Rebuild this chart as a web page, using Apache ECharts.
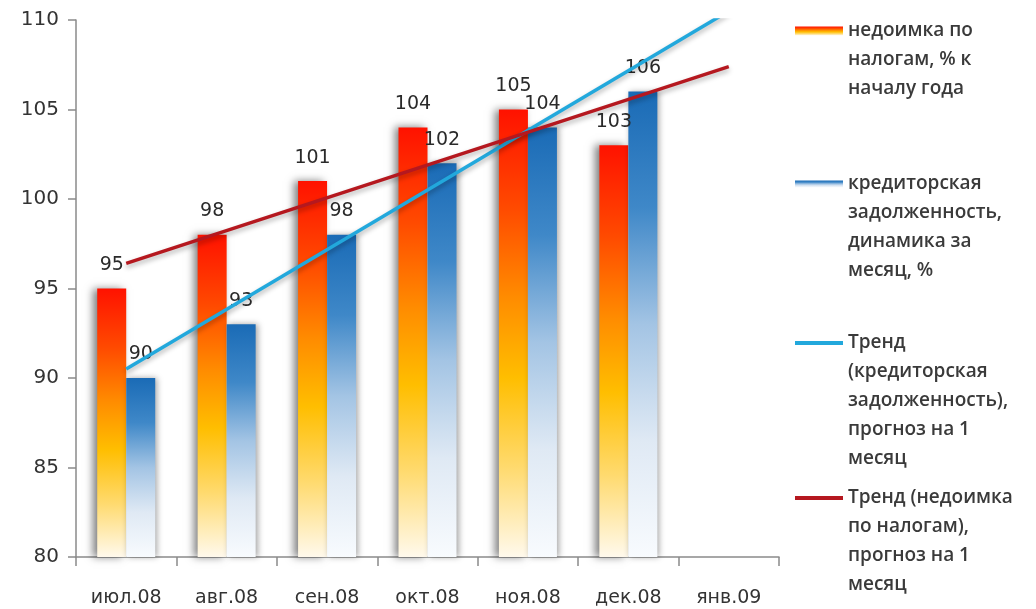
<!DOCTYPE html>
<html><head><meta charset="utf-8">
<script src="https://cdn.jsdelivr.net/npm/echarts@6/dist/echarts.min.js"></script>
<style>html,body{margin:0;padding:0;background:#fff}#c{width:1036px;height:609px}</style>
</head><body><div id="c"></div>
<script>
const categories = ['июл.08','авг.08','сен.08','окт.08','ноя.08','дек.08','янв.09'];
const arrears = [95, 98, 101, 104, 105, 103, null];
const payables = [90, 93, 98, 102, 104, 106, null];
const trendPayables = [90.5, null, null, null, null, null, 110.5];
const trendArrears = [96.4, null, null, null, null, null, 107.4];
const yTicks = [80, 85, 90, 95, 100, 105, 110];

const names = [
  'недоимка по налогам, % к началу года',
  'кредиторская задолженность, динамика за месяц, %',
  'Тренд (кредиторская задолженность), прогноз на 1 месяц',
  'Тренд (недоимка по налогам), прогноз на 1 месяц'
];
const wrapped = {};
wrapped[names[0]] = 'недоимка по\nналогам, % к\nначалу года';
wrapped[names[1]] = 'кредиторская\nзадолженность,\nдинамика за\nмесяц, %';
wrapped[names[2]] = 'Тренд\n(кредиторская\nзадолженность),\nпрогноз на 1\nмесяц';
wrapped[names[3]] = 'Тренд (недоимка\nпо налогам),\nпрогноз на 1\nмесяц';

const LH = 29;
function lines(n){ return wrapped[n].split('\n').length; }
// leading blank lines so the icon lines up with the first text line
function padded(n){ const k = lines(n); return '\u00a0\n'.repeat(k-1) + wrapped[n]; }

const redGrad = new echarts.graphic.LinearGradient(0,0,0,1,[
  {offset:0,color:'#ff1200'},{offset:0.22,color:'#ff4a00'},{offset:0.42,color:'#ff8c00'},
  {offset:0.6,color:'#ffbe00'},{offset:0.8,color:'#ffda6e'},{offset:1,color:'#fff9ec'}]);
const blueGrad = new echarts.graphic.LinearGradient(0,0,0,1,[
  {offset:0,color:'#1a6bb6'},{offset:0.25,color:'#3f88c8'},{offset:0.5,color:'#a3c4e4'},
  {offset:0.75,color:'#dfe9f4'},{offset:1,color:'#f8fbfe'}]);

const legendCenters = [31, 184, 343, 498];
function mkLegend(i, iconH){
  const n = lines(names[i]);
  return {
    data: [names[i]],
    orient: 'vertical',
    left: 795,
    top: legendCenters[i] - (2*n-1)*LH/2,
    padding: 0,
    itemWidth: 48, itemHeight: iconH,
    icon: 'rect',
    formatter: nm => padded(nm),
    textStyle: {fontFamily:'Open Sans', fontWeight:600, fontSize:19, color:'#3a3a3a', lineHeight:LH}
  };
}

const chart = echarts.init(document.getElementById('c'), null, {renderer:'canvas'});
chart.setOption({
  backgroundColor:'#ffffff',
  animation:false,
  grid:{left:76, right:257, top:20, bottom:52},
  legend:[mkLegend(0,9), mkLegend(1,7), mkLegend(2,4), mkLegend(3,4)],
  xAxis:{
    type:'category', data:categories,
    axisLine:{lineStyle:{color:'#8a8a8a', width:1.5}},
    axisTick:{show:true, length:9, lineStyle:{color:'#8a8a8a', width:1.5}},
    axisLabel:{fontFamily:'DejaVu Sans', fontSize:19, color:'#333', margin:32}
  },
  yAxis:{
    type:'value', min:80, max:110, interval:5,
    splitLine:{show:false},
    axisLine:{show:true, lineStyle:{color:'#8a8a8a', width:1.5}},
    axisTick:{show:true, length:8, lineStyle:{color:'#8a8a8a', width:1.5}},
    axisLabel:{fontFamily:'DejaVu Sans', fontSize:20, color:'#333', margin:17,
               formatter: v => yTicks.includes(v) ? String(v) : ''}
  },
  series:[
    {name:names[0], type:'bar', data:arrears, barWidth:29, barGap:'0%',
     itemStyle:{color:redGrad, shadowColor:'rgba(0,0,0,0.5)', shadowBlur:8, shadowOffsetX:-4},
     label:{show:true, position:'top', distance:14, fontFamily:'DejaVu Sans', fontSize:19, color:'#2a2a2a'}},
    {name:names[1], type:'bar', data:payables, barWidth:29,
     itemStyle:{color:blueGrad, shadowColor:'rgba(0,0,0,0.35)', shadowBlur:6, shadowOffsetX:2},
     label:{show:true, position:'top', distance:14, fontFamily:'DejaVu Sans', fontSize:19, color:'#2a2a2a'}},
    {name:names[2], type:'line', data:trendPayables, connectNulls:true, symbol:'none', z:5,
     lineStyle:{color:'#22a8dc', width:3.5, shadowColor:'rgba(0,0,0,0.3)', shadowBlur:5, shadowOffsetY:3},
     itemStyle:{color:'#22a8dc'}},
    {name:names[3], type:'line', data:trendArrears, connectNulls:true, symbol:'none', z:5,
     lineStyle:{color:'#b5181f', width:3.5, shadowColor:'rgba(0,0,0,0.3)', shadowBlur:5, shadowOffsetY:3},
     itemStyle:{color:'#b5181f'}}
  ]
});
</script></body></html>
